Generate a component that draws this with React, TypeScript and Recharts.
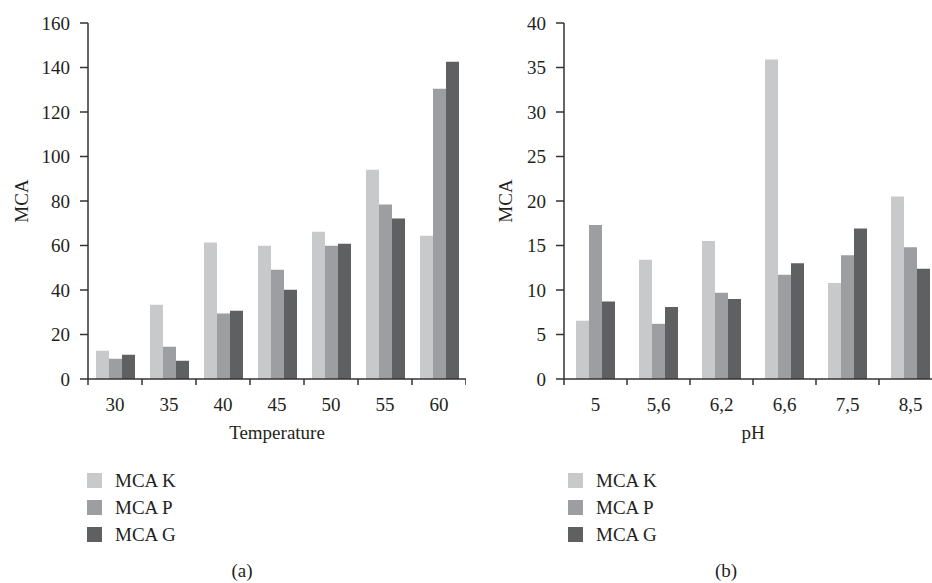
import React from 'react';
import { BarChart, Bar, XAxis, YAxis } from 'recharts';

const tempCategories = ['30', '35', '40', '45', '50', '55', '60'];
const tempK = [12.7, 33.4, 61.3, 59.9, 66.2, 94.1, 64.4];
const tempP = [9.1, 14.5, 29.4, 49.1, 59.9, 78.4, 130.5];
const tempG = [10.9, 8.2, 30.7, 40.1, 60.8, 72.1, 142.6];
const tempTicks = [0, 20, 40, 60, 80, 100, 120, 140, 160];

const phCategories = ['5', '5,6', '6,2', '6,6', '7,5', '8,5'];
const phK = [6.55, 13.4, 15.5, 35.9, 10.8, 20.5];
const phP = [17.3, 6.2, 9.7, 11.7, 13.9, 14.8];
const phG = [8.7, 8.1, 9.0, 13.0, 16.9, 12.4];
const phTicks = [0, 5, 10, 15, 20, 25, 30, 35, 40];

const seriesNames = ['MCA K', 'MCA P', 'MCA G'];
const seriesColors = ['#c8c9cb', '#9d9ea1', '#5f6062'];

const FONT = '"Liberation Serif", "DejaVu Serif", serif';
const TEXT = '#231f20';
const AXIS = '#333333';
const FS = 19;
const PLOT_W = 378;

const tempData = tempCategories.map((c, i) => ({ cat: c, k: tempK[i], p: tempP[i], g: tempG[i] }));
const phData = phCategories.map((c, i) => ({ cat: c, k: phK[i], p: phP[i], g: phG[i] }));

function makeTick(n: number) {
  const half = PLOT_W / n / 2;
  return (props: any) => {
    const { x, y, payload, index } = props;
    return (
      <g>
        <line x1={x - half} y1={y} x2={x - half} y2={y + 6} stroke={AXIS} strokeWidth={1.5} />
        {index === n - 1 && (
          <line x1={x + half} y1={y} x2={x + half} y2={y + 6} stroke={AXIS} strokeWidth={1.5} />
        )}
        <text x={x} y={y + 32} textAnchor="middle" fill={TEXT} fontSize={FS} fontFamily={FONT}>
          {payload.value}
        </text>
      </g>
    );
  };
}

function Panel(props: {
  data: any[];
  n: number;
  ticks: number[];
  max: number;
  xLabel: string;
  yDx: number;
}) {
  const { data, n, ticks, max, xLabel, yDx } = props;
  return (
    <BarChart
      width={88 + PLOT_W}
      height={583}
      data={data}
      margin={{ top: 23, right: 0, left: 0, bottom: 144 }}
      barGap={0}
      barSize={13}
    >
      <XAxis
        dataKey="cat"
        height={60}
        tickSize={0}
        tickMargin={0}
        tickLine={false}
        interval={0}
        axisLine={{ stroke: AXIS, strokeWidth: 1.5 }}
        tick={makeTick(n)}
        label={{ value: xLabel, position: 'center', dy: 23, fill: TEXT, fontSize: FS, fontFamily: FONT }}
      />
      <YAxis
        width={88}
        domain={[0, max]}
        ticks={ticks}
        interval={0}
        tickSize={8}
        tickMargin={10}
        axisLine={{ stroke: AXIS, strokeWidth: 1.5 }}
        tickLine={{ stroke: AXIS, strokeWidth: 1.5 }}
        tick={{ fill: TEXT, fontSize: FS, fontFamily: FONT }}
        label={{ value: 'MCA', angle: -90, position: 'center', dx: yDx, fill: TEXT, fontSize: FS, fontFamily: FONT }}
      />
      <Bar dataKey="k" name={seriesNames[0]} fill={seriesColors[0]} isAnimationActive={false} />
      <Bar dataKey="p" name={seriesNames[1]} fill={seriesColors[1]} isAnimationActive={false} />
      <Bar dataKey="g" name={seriesNames[2]} fill={seriesColors[2]} isAnimationActive={false} />
    </BarChart>
  );
}

function LegendBlock(props: { left: number; top: number }) {
  return (
    <div style={{ position: 'absolute', left: props.left, top: props.top }}>
      {seriesNames.map((name, i) => (
        <div
          key={name}
          style={{ position: 'absolute', left: 0, top: i * 27, height: 15, width: 120, whiteSpace: 'nowrap' }}
        >
          <div style={{ position: 'absolute', left: 0, top: 0, width: 15, height: 15, background: seriesColors[i] }} />
          <div
            style={{
              position: 'absolute',
              left: 28,
              top: -4,
              fontSize: FS,
              lineHeight: '23px',
              color: TEXT,
              fontFamily: FONT,
            }}
          >
            {name}
          </div>
        </div>
      ))}
    </div>
  );
}

function Caption(props: { cx: number; cy: number; text: string }) {
  return (
    <div
      style={{
        position: 'absolute',
        left: props.cx - 30,
        top: props.cy - 12,
        width: 60,
        textAlign: 'center',
        fontSize: FS,
        lineHeight: '24px',
        color: TEXT,
        fontFamily: FONT,
      }}
    >
      {props.text}
    </div>
  );
}

export default function App() {
  return (
    <div
      style={{
        position: 'absolute',
        left: 0,
        top: 0,
        width: 932,
        height: 583,
        overflow: 'hidden',
        background: '#ffffff',
        fontFamily: FONT,
      }}
    >
      <div style={{ position: 'absolute', left: 0, top: 0 }}>
        <Panel data={tempData} n={tempCategories.length} ticks={tempTicks} max={160} xLabel="Temperature" yDx={-23} />
      </div>
      <div style={{ position: 'absolute', left: 476, top: 0 }}>
        <Panel data={phData} n={phCategories.length} ticks={phTicks} max={40} xLabel="pH" yDx={-15} />
      </div>
      <LegendBlock left={87} top={473} />
      <LegendBlock left={568} top={473} />
      <Caption cx={242} cy={571} text="(a)" />
      <Caption cx={726} cy={571} text="(b)" />
    </div>
  );
}
